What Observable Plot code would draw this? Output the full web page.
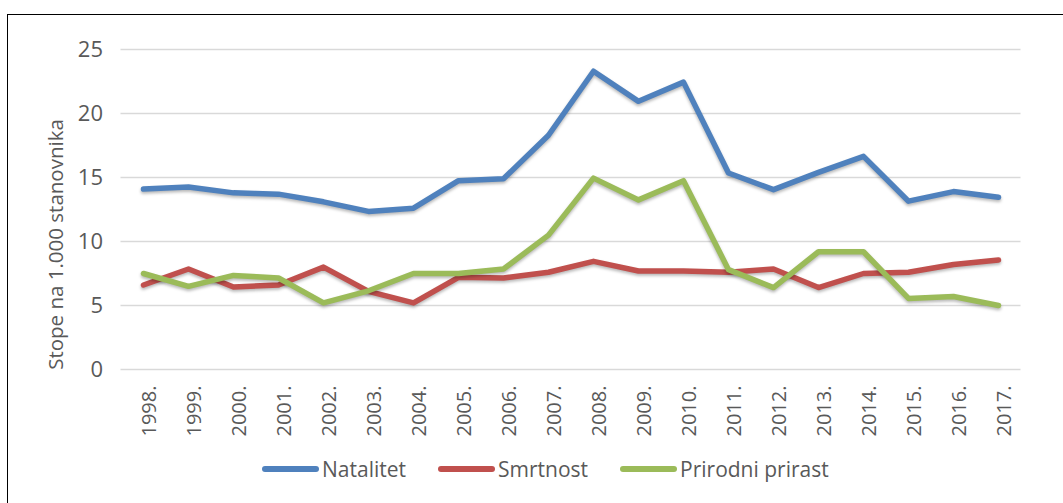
<!DOCTYPE html>
<html>
<head>
<meta charset="utf-8">
<script src="https://cdn.jsdelivr.net/npm/d3@7"></script>
<script src="https://cdn.jsdelivr.net/npm/@observablehq/plot@0.6"></script>
<style>
  html, body { margin: 0; padding: 0; background: #fff; }
  #wrap { position: relative; width: 1063px; height: 503px; overflow: hidden; font-family: "Open Sans", "Liberation Sans", Arial, sans-serif; }
  #frame { position: absolute; left: 6.5px; top: 14px; width: 1200px; height: 600px; border-left: 1.6px solid #000; border-top: 1.6px solid #000; }
  #chart { position: absolute; left: 0; top: 0; }
  #chart g[aria-label="line"] path { filter: drop-shadow(0px 2px 1.5px rgba(0,0,0,0.28)); }
  #legend { position: absolute; top: 455px; left: 262px; display: flex; align-items: center; font-size: 21px; color: #595959; white-space: nowrap; }
  .item { display: flex; align-items: center; }
  .sw { display: inline-block; width: 57px; height: 6px; border-radius: 3px; margin-right: 3px; }
</style>
</head>
<body>
<div id="wrap">
  <div id="frame"></div>
  <div id="chart"></div>
  <div id="legend"></div>
</div>
<script>
const years = ["1998.","1999.","2000.","2001.","2002.","2003.","2004.","2005.","2006.","2007.","2008.","2009.","2010.","2011.","2012.","2013.","2014.","2015.","2016.","2017."];
const natalitet = [14.1,14.25,13.8,13.7,13.1,12.35,12.6,14.75,14.9,18.3,23.3,20.95,22.45,15.35,14.05,15.4,16.65,13.15,13.9,13.45];
const smrtnost = [6.6,7.85,6.45,6.6,8.0,6.1,5.2,7.2,7.15,7.6,8.45,7.7,7.7,7.6,7.85,6.4,7.5,7.6,8.2,8.55];
const prirast = [7.5,6.5,7.35,7.15,5.2,6.15,7.5,7.5,7.85,10.5,14.95,13.25,14.75,7.8,6.4,9.2,9.2,5.55,5.7,5.0];
const seriesNames = ["Natalitet","Smrtnost","Prirodni prirast"];
const seriesColors = ["#4F81BD","#C0504D","#9BBB59"];
const yTicks = [0,5,10,15,20,25];
const yTitle = "Stope na 1.000 stanovnika";

const allSeries = [natalitet, smrtnost, prirast];
const rows = [];
allSeries.forEach((vals, s) => vals.forEach((v, i) => rows.push({year: years[i], value: v, series: seriesNames[s]})));

const textColor = "#595959";
const plot = Plot.plot({
  width: 1063,
  height: 450,
  marginLeft: 120.5,
  marginRight: 42.5,
  marginTop: 49,
  marginBottom: 81,
  style: {fontFamily: "'Open Sans', 'Liberation Sans', Arial, sans-serif", background: "transparent", overflow: "visible"},
  x: {type: "point", domain: years, padding: 0.5, axis: null},
  y: {domain: [0, 25], axis: null},
  color: {domain: seriesNames, range: seriesColors},
  marks: [
    Plot.ruleY(yTicks, {stroke: "#d9d9d9", strokeWidth: 1.5}),
    Plot.axisY({ticks: yTicks, tickSize: 0, tickPadding: 18, fontSize: 22, color: textColor, label: null}),
    Plot.text(years, {x: d => d, y: () => 0, dy: 16, dx: 6, rotate: -90, textAnchor: "end", lineAnchor: "middle", fontSize: 20, fill: textColor}),
    Plot.text([yTitle], {frameAnchor: "left", dx: -65, dy: 35, rotate: -90, textAnchor: "middle", lineAnchor: "middle", fontSize: 20.5, fill: textColor}),
    Plot.line(rows, {x: "year", y: "value", z: "series", stroke: "series", strokeWidth: 5.5, strokeLinejoin: "round", strokeLinecap: "round", curve: "linear"})
  ]
});
document.getElementById("chart").appendChild(plot);

const legend = document.getElementById("legend");
seriesNames.forEach((name, i) => {
  const item = document.createElement("div");
  item.className = "item";
  if (i > 0) item.style.marginLeft = "32px";
  const sw = document.createElement("span");
  sw.className = "sw";
  sw.style.background = seriesColors[i];
  const label = document.createElement("span");
  label.textContent = name;
  item.appendChild(sw);
  item.appendChild(label);
  legend.appendChild(item);
});
</script>
</body>
</html>
